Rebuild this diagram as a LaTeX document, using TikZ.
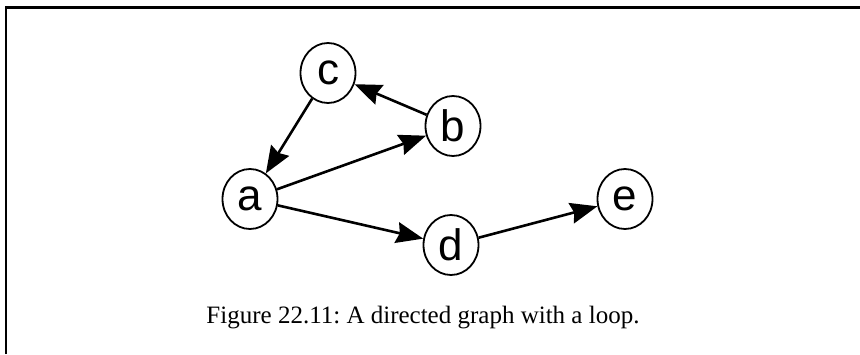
\documentclass[tikz,border=0pt]{standalone}
\usepackage{fontspec}
\setmainfont{Liberation Serif}
\newfontfamily\nodefont{Liberation Sans}
\usetikzlibrary{shapes.geometric,arrows.meta}
\begin{document}
\begin{tikzpicture}[x=1pt,y=-1pt,
  vert/.style={ellipse,draw,line width=1.8pt,minimum width=55pt,minimum height=60pt,inner sep=0pt,font=\nodefont\fontsize{44}{44}\selectfont},
  edge/.style={line width=2.6pt,-{Stealth[length=27pt,width=21pt,inset=3pt]}},
  frameline/.style={line width=2.6pt}]
\useasboundingbox (0,0) rectangle (860,354);
\draw[frameline] (6,354) -- (6,7.5) -- (860,7.5);
\node[vert] (c) at (328,73) {c};
\node[vert] (b) at (453,126) {b};
\node[vert] (a) at (250,199) {a};
\node[vert] (d) at (451,245) {d};
\node[vert] (e) at (625,199) {e};
\draw[edge] (b) -- (c);
\draw[edge] (c) -- (a);
\draw[edge] (a) -- (b);
\draw[edge] (a) -- (d);
\draw[edge] (d) -- (e);
\node[font=\fontsize{25}{25}\selectfont] (cap) at (423,318) {Figure 22.11:\ A directed graph with a loop.};
\end{tikzpicture}
\end{document}
